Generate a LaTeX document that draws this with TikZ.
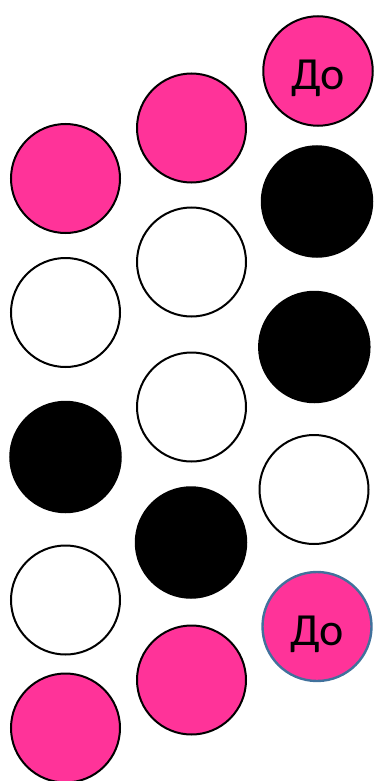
\documentclass[tikz,border=0pt]{standalone}
\usepackage{fontspec}
\setsansfont{Carlito}
\usetikzlibrary{positioning}

\definecolor{beadpink}{RGB}{255,51,153}
\definecolor{beadblue}{RGB}{65,113,156}

\begin{document}
\begin{tikzpicture}[
    x=1pt, y=-1pt,
    bead/.style={draw, circle, minimum size=109pt, inner sep=0pt, line width=2pt},
    pink/.style={bead, fill=beadpink},
    blank/.style={bead, fill=white},
    dark/.style={bead, fill=black, minimum size=110.5pt},
    note/.style={font=\sffamily\fontsize{46}{46}\selectfont, text height=38pt, text depth=0pt},
]

\useasboundingbox (0,0) rectangle (374,781);

% Left column
\node[pink]  (a1) at (65.5, 178.5) {};
\node[blank] (a2) at (65.5, 312.5) {};
\node[dark]  (a3) at (65.5, 457) {};
\node[blank] (a4) at (65.5, 600) {};
\node[pink]  (a5) at (65.5, 728) {};

% Middle column
\node[pink]  (b1) at (191.5, 128) {};
\node[blank] (b2) at (191.5, 262) {};
\node[blank] (b3) at (191.5, 407) {};
\node[dark]  (b4) at (191, 542.5) {};
\node[pink]  (b5) at (191.5, 680) {};

% Right column
\node[pink, note, minimum size=109.5pt] (c1) at (318, 71) {До};
\node[dark]  (c2) at (317, 201.5) {};
\node[dark]  (c3) at (314.3, 347) {};
\node[blank] (c4) at (314, 489.5) {};
\node[pink, note, draw=beadblue, line width=2.4pt] (c5) at (317, 626.5) {До};

\end{tikzpicture}
\end{document}
